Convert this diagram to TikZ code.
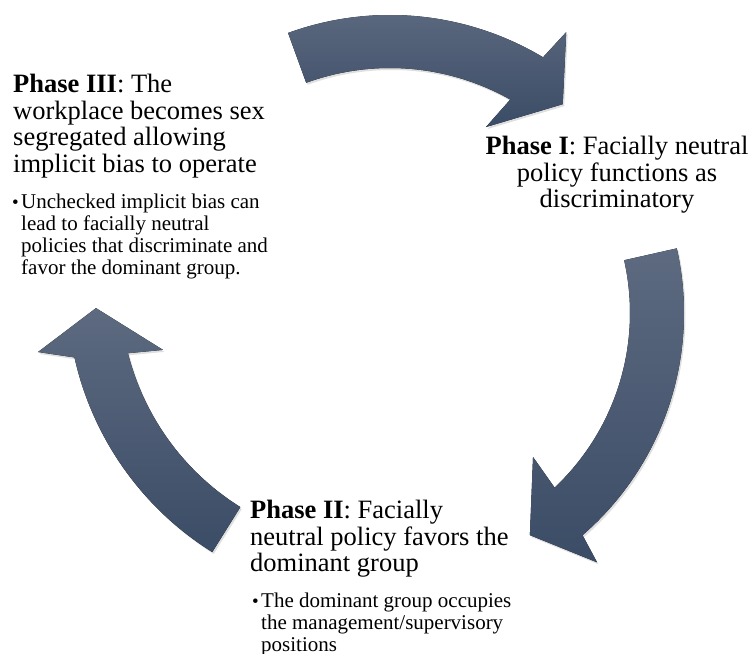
\documentclass[tikz,border=0pt]{standalone}
\usepackage{fontspec}
\setmainfont{Liberation Serif}
\usetikzlibrary{calc,shadows}
\definecolor{cyclelight}{RGB}{93,106,128}
\definecolor{cycledark}{RGB}{59,76,102}
\tikzset{
  cyclearrow/.style={top color=cyclelight, bottom color=cycledark, draw=none,
    drop shadow={opacity=0.25, shadow xshift=1.5pt, shadow yshift=-2pt}},
  phasehead/.style={inner sep=0pt, font=\fontsize{26.5}{26.5}\selectfont},
  phasenote/.style={inner sep=0pt, align=left, font=\fontsize{21}{22}\selectfont},
}
\newcommand{\notebullet}{\makebox[0pt][r]{\fontsize{19}{19}\selectfont\textbullet\hspace{2.5pt}}}
\newcommand{\phasearrow}[9]{%
  \fill[cyclearrow] ($(#1)+(#2:#6)$) arc[start angle=#2, end angle=#3, radius=#6]
    -- ($(#1)+(#7)$) -- ($(#1)+(#8)$) -- ($(#1)+(#9)$)
    -- ($(#1)+(#4:#5)$) arc[start angle=#4, end angle=#2, radius=#5] -- cycle;}

\begin{document}
\begin{tikzpicture}[x=1pt, y=1pt]
\useasboundingbox (0,0) rectangle (752,653);
\coordinate (ctop) at (390,340);
\coordinate (cleft) at (376,363);
\phasearrow{ctop}{110}{59.1}{60.6}{245}{298}{57.9:331.6}{50.4:271}{62.7:209.3}
\phasearrow{ctop}{12.7}{-49.1}{-46.7}{240}{294}{-50.3:324}{-57.8:262.5}{-45.2:203}
\phasearrow{cleft}{238}{192.6}{194.3}{256}{309}{190.4:343.6}{183.7:280.6}{195.7:221.3}
\node[phasehead, align=left, anchor=north west] (p3head) at (13,579)
  {\textbf{Phase III}: The\\workplace becomes sex\\segregated allowing\\implicit bias to operate};
\node[phasenote, anchor=north west] (p3note) at (21,459.5)
  {\notebullet Unchecked implicit bias can\\lead to facially neutral\\policies that discriminate and\\favor the dominant group.};
\node[phasehead, align=center, anchor=north] (p1head) at (617,517)
  {\textbf{Phase I}: Facially neutral\\policy functions as\\discriminatory};
\node[phasehead, align=left, anchor=north west] (p2head) at (250,153)
  {\textbf{Phase II}: Facially\\neutral policy favors the\\dominant group};
\node[phasenote, anchor=north west] (p2note) at (261,60.5)
  {\notebullet The dominant group occupies\\the management/supervisory\\positions};
\end{tikzpicture}
\end{document}
